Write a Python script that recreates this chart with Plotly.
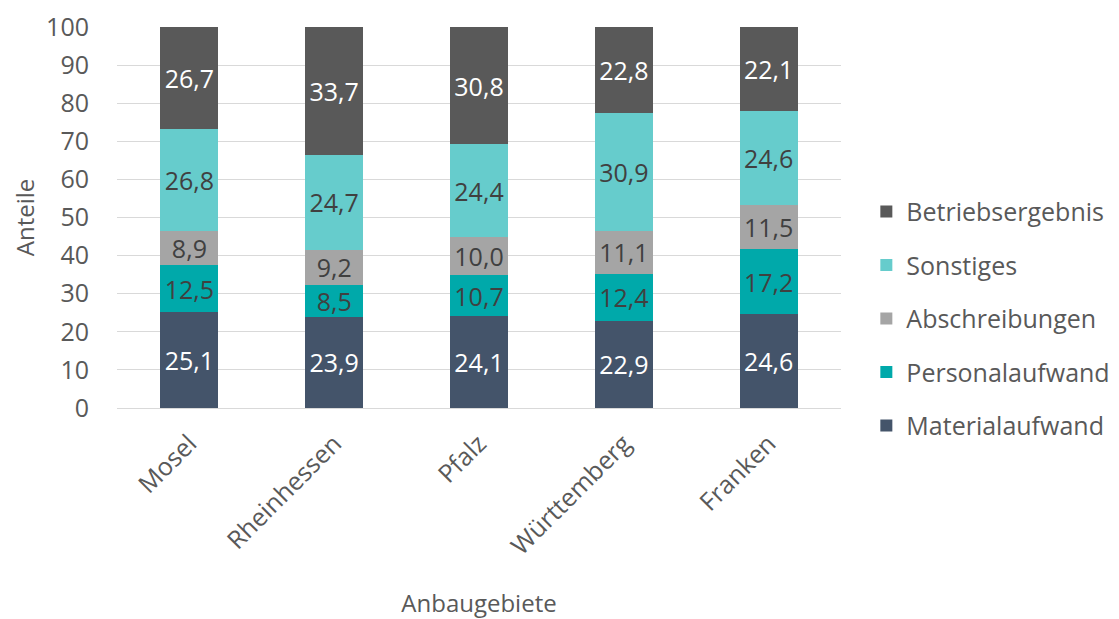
import plotly.graph_objects as go

categories = ["Mosel", "Rheinhessen", "Pfalz", "Württemberg", "Franken"]
materialaufwand = [25.1, 23.9, 24.1, 22.9, 24.6]
personalaufwand = [12.5, 8.5, 10.7, 12.4, 17.2]
abschreibungen = [8.9, 9.2, 10.0, 11.1, 11.5]
sonstiges = [26.8, 24.7, 24.4, 30.9, 24.6]
betriebsergebnis = [26.7, 33.7, 30.8, 22.8, 22.1]
y_ticks = [0, 10, 20, 30, 40, 50, 60, 70, 80, 90, 100]

series = [
    ("Materialaufwand", materialaufwand, "#44546A", "white", 5),
    ("Personalaufwand", personalaufwand, "#00A9AA", "#404040", 4),
    ("Abschreibungen", abschreibungen, "#A5A5A5", "#404040", 3),
    ("Sonstiges", sonstiges, "#66CCCC", "#404040", 2),
    ("Betriebsergebnis", betriebsergebnis, "#595959", "white", 1),
]

font_family = "Open Sans, Noto Sans, sans-serif"
fs = 25

fig = go.Figure()
for name, vals, color, tcolor, rank in series:
    fig.add_trace(go.Bar(
        x=categories, y=vals, name=name, legendgroup=name, legendrank=rank,
        marker=dict(color=color, line=dict(width=0)),
        texttemplate="%{y:.1f}", textposition="inside",
        insidetextanchor="middle", textangle=0,
        textfont=dict(size=fs, color=tcolor, family=font_family),
        constraintext="none",
    ))

fig.update_layout(
    barmode="stack",
    bargap=0.6,
    separators=",.",
    width=1119, height=619,
    margin=dict(l=109, r=286, t=19, b=219),
    paper_bgcolor="white", plot_bgcolor="white",
    font=dict(family=font_family, color="#595959", size=fs),
    legend=dict(
        x=1.035, y=0.234, xanchor="left", yanchor="middle",
        traceorder="grouped", tracegroupgap=18,
        font=dict(size=25, color="#595959"),
    ),
    showlegend=True,
)
fig.update_xaxes(
    title=dict(text="Anbaugebiete", font=dict(size=24, color="#595959"), standoff=35),
    tickangle=-45, tickfont=dict(size=fs, color="#595959"),
    showline=False, showgrid=False, ticks="", automargin=False,
    ticklabelstandoff=15, ticklabeloverflow="allow",
)
fig.update_yaxes(
    title=dict(text="Anteile", font=dict(size=24, color="#595959"), standoff=22),
    range=[0, 100], tickvals=y_ticks,
    tickfont=dict(size=fs, color="#595959"),
    showgrid=True, gridcolor="#D9D9D9", gridwidth=1.3,
    zeroline=True, zerolinecolor="#D9D9D9", zerolinewidth=1.3,
    showline=False, ticks="", ticklabelstandoff=27, automargin=False,
    ticklabeloverflow="allow",
)

fig.write_html("out.html")
